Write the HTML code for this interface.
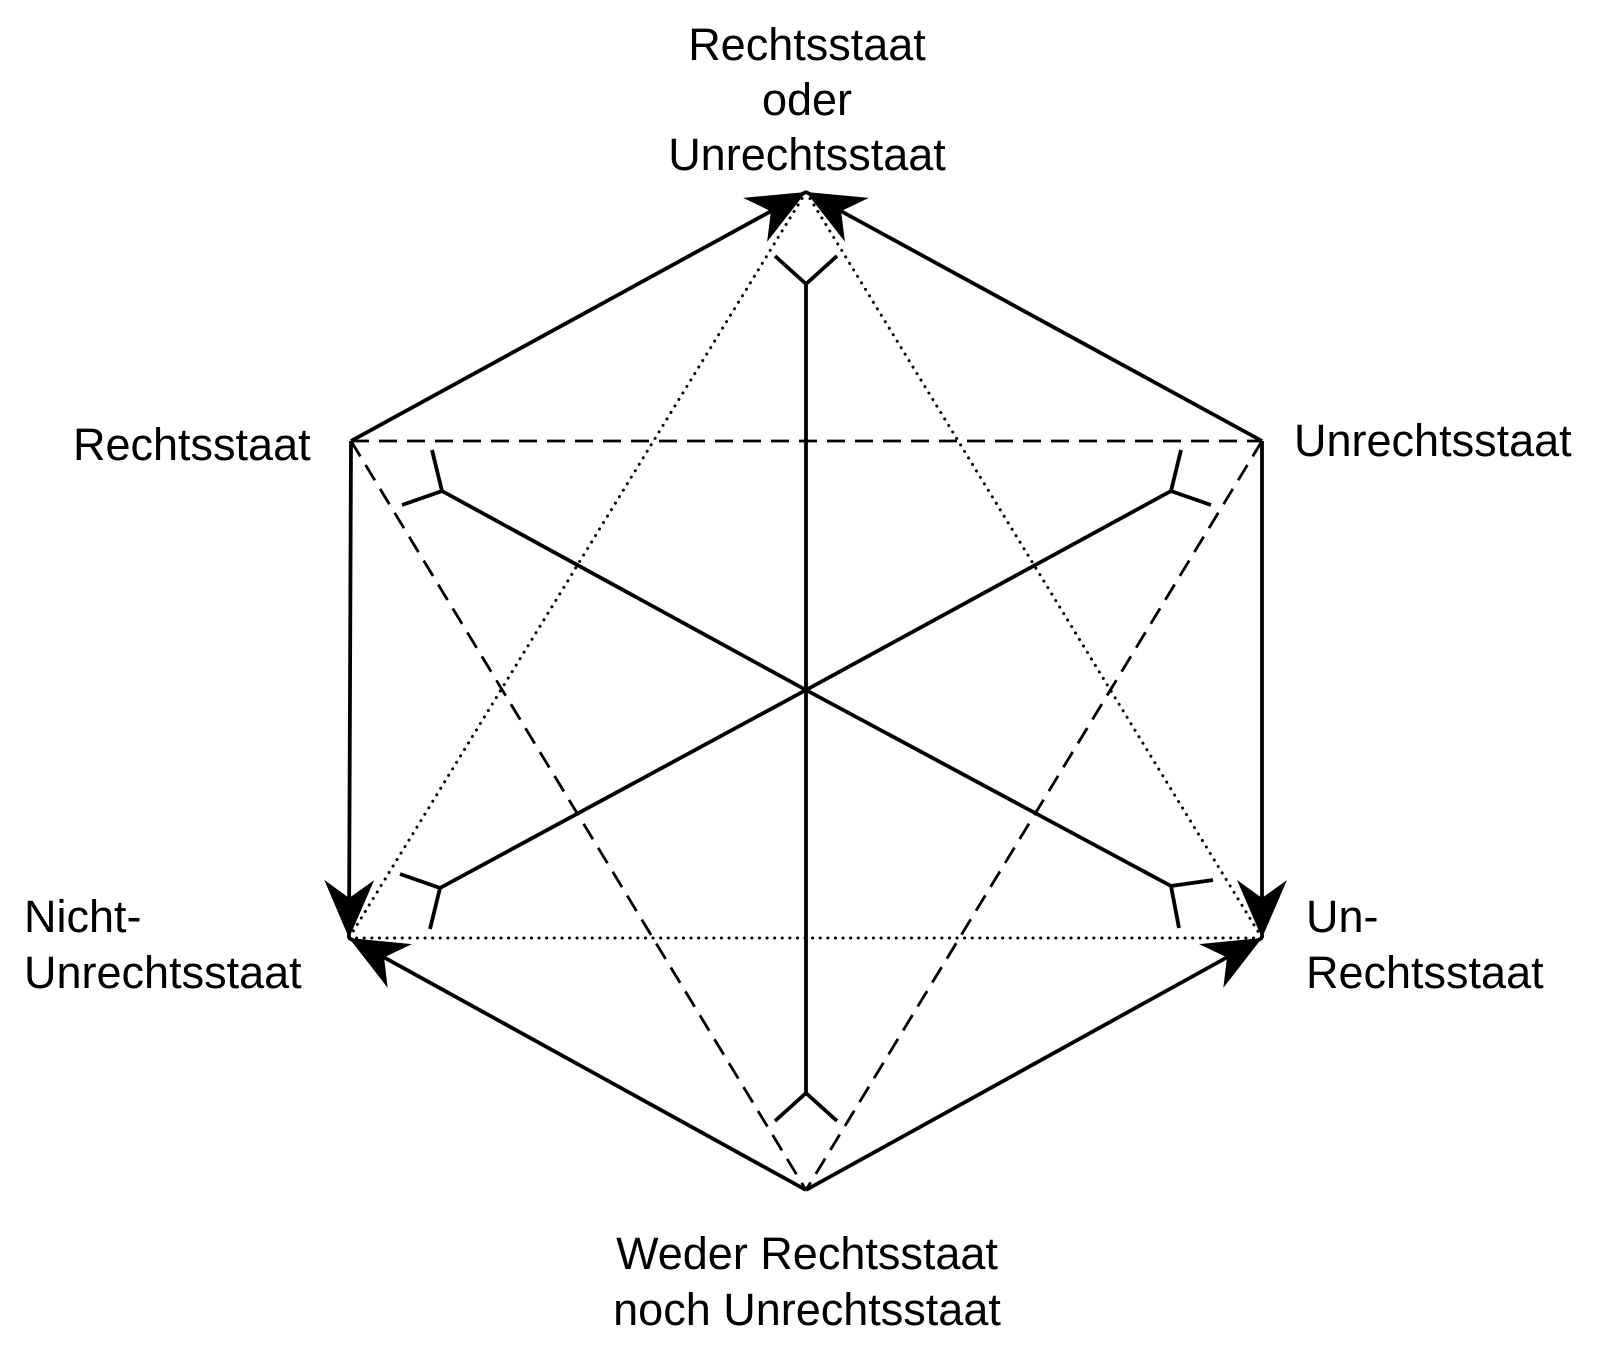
<!DOCTYPE html>
<html><head><meta charset="utf-8"><style>
html,body{margin:0;padding:0;background:#fff;}
svg{display:block;}
text{font-family:"Liberation Sans",Arial,sans-serif;font-size:45px;fill:#000;}
</style></head><body>
<svg width="1600" height="1349" viewBox="0 0 1600 1349" xmlns="http://www.w3.org/2000/svg">
<defs>
<marker id="ah" markerUnits="userSpaceOnUse" markerWidth="80" markerHeight="80" viewBox="-70 -35 80 70" refX="0" refY="0" orient="auto">
<path d="M0,0 L-58,-25 L-40,0 L-58,25 Z" fill="#000"/>
</marker>
</defs>
<g stroke="#000" fill="none">
<g stroke-width="3" stroke-dasharray="0.1 7.5" stroke-linecap="round">
<line x1="806" y1="192" x2="349" y2="938"/>
<line x1="806" y1="192" x2="1262" y2="938"/>
<line x1="349" y1="938" x2="1262" y2="938"/>
</g>
<g stroke-width="2.8" stroke-dasharray="18 10">
<line x1="351" y1="441" x2="1262" y2="441"/>
<line x1="351" y1="441" x2="806" y2="1190"/>
<line x1="1262" y1="441" x2="806" y2="1190"/>
</g>
<g stroke-width="3.8">
<line x1="351" y1="441" x2="806" y2="192" marker-end="url(#ah)"/>
<line x1="1262" y1="441" x2="806" y2="192" marker-end="url(#ah)"/>
<line x1="351" y1="441" x2="349" y2="938" marker-end="url(#ah)"/>
<line x1="1262" y1="441" x2="1262" y2="938" marker-end="url(#ah)"/>
<line x1="806" y1="1190" x2="349" y2="938" marker-end="url(#ah)"/>
<line x1="806" y1="1190" x2="1262" y2="938" marker-end="url(#ah)"/>
</g>
<g stroke-width="3.8">
<polyline points="806,690 806,284"/><polyline points="775,256 806,284 837,256"/>
<polyline points="806,690 806,1093"/><polyline points="775,1121 806,1093 837,1121"/>
<polyline points="806,690 442,491"/><polyline points="432,450 442,491 402,505"/>
<polyline points="806,690 1171,491"/><polyline points="1181,450 1171,491 1211,505"/>
<polyline points="806,690 440,888"/><polyline points="430,929 440,888 400,874"/>
<polyline points="806,690 1171,886"/><polyline points="1179,928 1171,886 1213,880"/>
</g>
</g>
<g text-anchor="middle">
<text x="807" y="60">Rechtsstaat</text>
<text x="807" y="115">oder</text>
<text x="807" y="170">Unrechtsstaat</text>
<text x="807" y="1269">Weder Rechtsstaat</text>
<text x="807" y="1325">noch Unrechtsstaat</text>
</g>
<text x="73" y="460">Rechtsstaat</text>
<text x="1294" y="456">Unrechtsstaat</text>
<text x="24" y="932">Nicht-</text>
<text x="24" y="988">Unrechtsstaat</text>
<text x="1306" y="932">Un-</text>
<text x="1306" y="988">Rechtsstaat</text>
</svg>
</body></html>
